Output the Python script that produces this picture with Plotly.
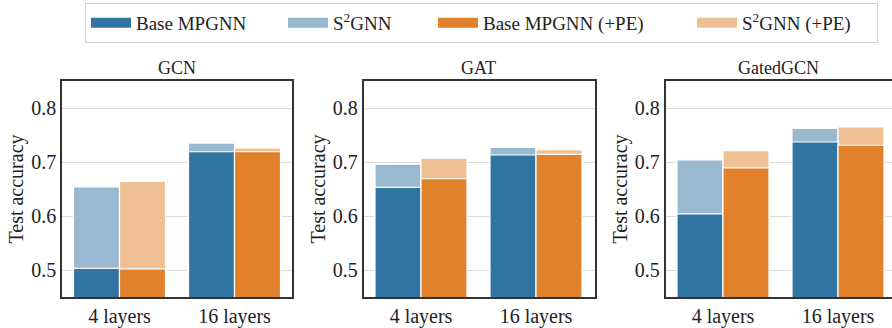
import plotly.graph_objects as go

categories = ["4 layers", "16 layers"]
models = ["GCN", "GAT", "GatedGCN"]
series_names = ["Base MPGNN", "S<sup>2</sup>GNN", "Base MPGNN (+PE)", "S<sup>2</sup>GNN (+PE)"]

gcn_base = [0.503, 0.719]
gcn_s2 = [0.654, 0.735]
gcn_base_pe = [0.502, 0.719]
gcn_s2_pe = [0.664, 0.726]

gat_base = [0.653, 0.713]
gat_s2 = [0.696, 0.727]
gat_base_pe = [0.669, 0.714]
gat_s2_pe = [0.707, 0.723]

gated_base = [0.604, 0.737]
gated_s2 = [0.704, 0.762]
gated_base_pe = [0.689, 0.731]
gated_s2_pe = [0.721, 0.765]

y_ticks = [0.5, 0.6, 0.7, 0.8]

BLUE = "#3274a1"
BLUE_L = "#98b9d0"
ORANGE = "#e1812c"
ORANGE_L = "#f0c095"
FONT = "Liberation Serif"
TXT = "#222222"
W, H = 892, 328

panels = [
    (gcn_base, gcn_s2, gcn_base_pe, gcn_s2_pe),
    (gat_base, gat_s2, gat_base_pe, gat_s2_pe),
    (gated_base, gated_s2, gated_base_pe, gated_s2_pe),
]
# pixel layout of plot areas
x_px = [(62, 292), (363.5, 594.5), (665.5, 892)]
px_per_cat = 115.0
top_px, bot_px = 81, 307

fig = go.Figure()
layout = dict()
annotations = []
for i, (vals, (x0, x1)) in enumerate(zip(panels, x_px)):
    sfx = "" if i == 0 else str(i + 1)
    xa, ya = "x" + sfx, "y" + sfx
    b, s2, bpe, s2pe = vals
    # light (S2GNN) bars first, dark (base) bars on top
    for y, color, off in [(s2, BLUE_L, -0.4), (s2pe, ORANGE_L, 0.0),
                          (b, BLUE, -0.4), (bpe, ORANGE, 0.0)]:
        fig.add_trace(go.Bar(
            x=[0, 1], y=y, width=0.4, offset=off,
            marker=dict(color=color, line=dict(color="white", width=1.2)),
            xaxis=xa, yaxis=ya, showlegend=False, hoverinfo="y"))
    xr_end = -0.5 + (x1 - x0) / px_per_cat
    layout["xaxis" + sfx] = dict(
        domain=[x0 / W, x1 / W], anchor=ya, range=[-0.5, xr_end],
        tickmode="array", tickvals=[0, 1], ticktext=categories,
        showgrid=False, zeroline=False, showline=True, linecolor="#333333",
        linewidth=1.5, mirror=True, ticks="", ticklabelstandoff=0,
        tickfont=dict(family=FONT, size=20, color=TXT), fixedrange=True)
    layout["yaxis" + sfx] = dict(
        domain=[0, 1], anchor=xa, range=[0.45, 0.85],
        tickmode="array", tickvals=y_ticks, ticktext=[f"{v:.1f}" for v in y_ticks],
        showgrid=True, gridcolor="#dcdcdc", gridwidth=1.2, zeroline=False,
        showline=True, linecolor="#333333", linewidth=1.5,
        mirror=(i < 2), ticks="", ticklabelstandoff=0,
        tickfont=dict(family=FONT, size=20, color=TXT),
        title=dict(text="Test accuracy", standoff=2,
                   font=dict(family=FONT, size=20, color=TXT)),
        fixedrange=True)
    annotations.append(dict(
        text=models[i], x=(x0 + min(x1, x0 + 230)) / 2 / W, xref="paper",
        y=1 + (top_px - 67) / (bot_px - top_px), yref="paper",
        xanchor="center", yanchor="middle", showarrow=False,
        font=dict(family=FONT, size=18, color=TXT)))

# legend entries (wide swatches)
legend_colors = [BLUE, BLUE_L, ORANGE, ORANGE_L]
legend_widths = [142, 95, 204, 130]
for name, col, lw in zip(series_names, legend_colors, legend_widths):
    fig.add_trace(go.Scatter(
        x=[None], y=[None], mode="lines", name=name,
        line=dict(color=col, width=12), legendwidth=lw,
        xaxis="x", yaxis="y", showlegend=True))

fig.update_layout(
    width=W, height=H,
    margin=dict(l=0, r=0, t=top_px, b=H - bot_px),
    paper_bgcolor="white", plot_bgcolor="white",
    barmode="overlay",
    annotations=annotations,
    showlegend=True,
    font=dict(family=FONT, color=TXT),
    legend=dict(orientation="h", xref="container", yref="container",
                x=85 / W, y=1 - 3 / H, xanchor="left", yanchor="top",
                itemwidth=40,
                bordercolor="#d0d0d0", borderwidth=1, bgcolor="white",
                font=dict(family=FONT, size=19, color=TXT)),
    **layout,
)
fig.write_html("out.html")
